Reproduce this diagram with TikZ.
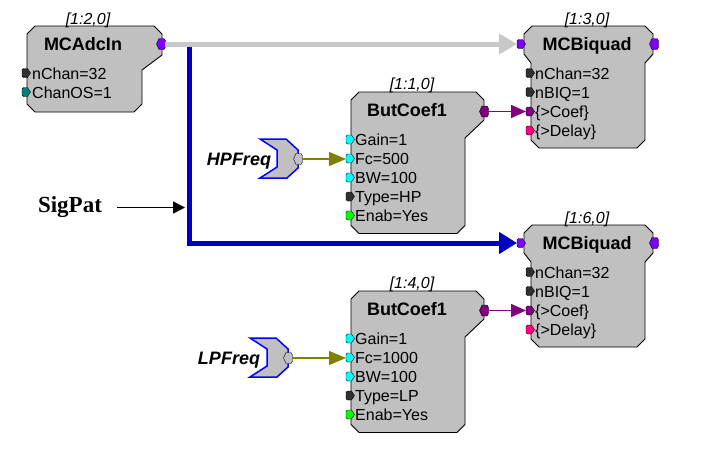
\documentclass[tikz,border=0pt]{standalone}
\usepackage{fontspec}
\setmainfont{Liberation Sans}
\newfontfamily\sigfont{Liberation Serif}
\usetikzlibrary{arrows.meta}

\definecolor{boxgray}{RGB}{192,192,192}
\definecolor{wiregray}{RGB}{200,200,200}
\definecolor{wireblue}{RGB}{0,0,192}
\definecolor{pviolet}{RGB}{128,0,255}
\definecolor{ppurple}{RGB}{128,0,128}
\definecolor{ppink}{RGB}{255,0,128}
\definecolor{pdark}{RGB}{48,48,48}
\definecolor{pteal}{RGB}{0,128,128}
\definecolor{pcyan}{RGB}{0,255,255}
\definecolor{pgreen}{RGB}{0,255,0}
\definecolor{polive}{RGB}{128,128,0}

\tikzset{
  boxline/.style={draw=black, fill=boxgray, line width=0.9pt},
  srcline/.style={draw=blue, fill=boxgray, line width=1.5pt},
  pinline/.style={draw=black, line width=0.4pt},
  rowtext/.style={anchor=base west, inner sep=0pt, font=\fontsize{16}{16}\selectfont},
  boxtitle/.style={anchor=base, inner sep=0pt, font=\bfseries\fontsize{18}{18}\selectfont},
  boxid/.style={anchor=base, inner sep=0pt, font=\itshape\fontsize{16}{16}\selectfont},
  srctext/.style={anchor=base, inner sep=0pt, font=\bfseries\itshape\fontsize{18}{18}\selectfont}
}

% block outline: header left, body left, top, header right, body right, slant from, slant to, bottom
\newcommand{\rpbox}[8]{%
  \draw[boxline] (#1,#3+8) -- (#1+8,#3) -- (#4-8,#3) -- (#4,#3+8) -- (#4,#6)
    -- (#5,#7) -- (#5,#8-8) -- (#5-8,#8) -- (#2+8,#8) -- (#2,#8-8)
    -- (#2,#7) -- (#1,#6) -- cycle;
}
% input pin: name, colour, x, y
\newcommand{\inpin}[4]{%
  \filldraw[pinline, fill=#2, shift={(#3,#4)}] (-4,-3) -- (-2.5,-4.5) -- (1.5,-4.5)
    -- (4.5,0) -- (1.5,4.5) -- (-2.5,4.5) -- (-4,3) -- cycle;
  \coordinate (#1) at (#3,#4);
}
% output pin: name, colour, x, y
\newcommand{\outpin}[4]{%
  \filldraw[pinline, fill=#2, shift={(#3,#4)}] (-4.5,0) -- (-2,-5.5) -- (3,-5.5)
    -- (4.5,-3) -- (4.5,3) -- (3,5.5) -- (-2,5.5) -- cycle;
  \coordinate (#1) at (#3,#4);
}

\begin{document}
\begin{tikzpicture}[x=1pt, y=-1pt]
    \useasboundingbox (0,0) rectangle (703,450);

    % MCAdcIn block
    \rpbox{27}{27}{26}{162}{142}{55}{70}{112}
    \node[boxid] (adcid) at (88,24) {[1:2,0]};
    \node[boxtitle] (adctitle) at (83,50) {MCAdcIn};
    \foreach \y/\c/\txt in {73/pdark/nChan=32, 92/pteal/ChanOS=1} {
        \inpin{adc-pin\y}{\c}{26}{\y}
        \node[rowtext] (adc-row\y) at (32,\y+6) {\txt};
    }
    \outpin{adcout}{pviolet}{161}{44}

    % MCBiquad blocks
    \foreach \k/\t/\id in {a/26/{[1:3,0]}, b/225/{[1:6,0]}} {
        \rpbox{524}{531}{\t}{653}{645}{\t+28}{\t+37}{\t+122}
        \node[boxid] (bq\k-id) at (587,\t-2) {\id};
        \node[boxtitle] (bq\k-title) at (587,\t+24) {MCBiquad};
        \foreach \dy/\c/\txt [count=\i] in {47/pdark/nChan=32, 66/pdark/nBIQ=1,
            85.5/ppurple/{\{>Coef\}}, 104.5/ppink/{\{>Delay\}}} {
            \inpin{bq\k-pin\i}{\c}{530}{\t+\dy}
            \node[rowtext] (bq\k-row\i) at (535,\t+\dy+6) {\txt};
        }
        \inpin{bq\k-in}{pviolet}{521}{\t+18}
        \outpin{bq\k-out}{pviolet}{654}{\t+18}
    }

    % ButCoef1 blocks
    \foreach \k/\t/\id/\fc/\ty in {a/92/{[1:1,0]}/500/HP, b/291/{[1:4,0]}/1000/LP} {
        \rpbox{351}{351}{\t}{484}{465}{\t+28}{\t+46}{\t+141.5}
        \node[boxid] (bc\k-id) at (412,\t-3) {\id};
        \node[boxtitle] (bc\k-title) at (407,\t+24.5) {ButCoef1};
        \foreach \dy/\c/\txt [count=\i] in {47.5/pcyan/Gain=1, 66.5/pcyan/Fc=\fc,
            85.5/pcyan/BW=100, 104.5/pdark/Type=\ty, 123.5/pgreen/Enab=Yes} {
            \inpin{bc\k-pin\i}{\c}{350}{\t+\dy}
            \node[rowtext] (bc\k-row\i) at (355,\t+\dy+6) {\txt};
        }
        \outpin{bc\k-out}{ppurple}{484}{\t+19.5}
    }

    % HPFreq / LPFreq sources
    \foreach \k/\x/\y/\txt in {a/260/139/HPFreq, b/250/338/LPFreq} {
        \draw[srcline, shift={(\x,\y)}] (0,0) -- (26,0) -- (38,11) -- (38,29)
            -- (27,39) -- (0,39) -- (17,28) -- (17,11) -- cycle;
        \node[srctext] (src\k) at (\x-21,\y+26) {\txt};
        \outpin{src\k-out}{boxgray}{\x+38}{\y+20}
    }

    % SigPat label
    \node[anchor=base, inner sep=0pt, font=\sigfont\bfseries\fontsize{23}{23}\selectfont] (sigpat) at (70,212.5) {SigPat};
    \coordinate (sigtip) at (185,207.5);
    \coordinate (tap) at (189.5,44);

    % connectors
    \draw[wireblue, line width=5pt, -{Triangle[length=18pt,width=21pt]}, shorten >=4pt]
        (tap) |- (bqb-in);
    \draw[wiregray, line width=5pt, -{Triangle[length=18pt,width=20pt]}, shorten <=4pt, shorten >=4pt]
        (adcout) -- (bqa-in);
    \foreach \k in {a,b} {
        \draw[ppurple, line width=1.5pt, -{Triangle[length=15pt,width=13pt]}, shorten <=4pt, shorten >=4pt]
            (bc\k-out) -- (bq\k-pin3 |- bc\k-out);
        \draw[polive, line width=1.2pt, -{Triangle[length=17pt,width=14pt]}, shorten <=4pt, shorten >=4pt]
            (src\k-out) -- (bc\k-pin2 |- src\k-out);
    }
    \draw[black, line width=1.7pt, -{Triangle[length=12pt,width=12pt]}, shorten <=15pt]
        (sigpat.east |- sigtip) -- (sigtip);

\end{tikzpicture}
\end{document}
